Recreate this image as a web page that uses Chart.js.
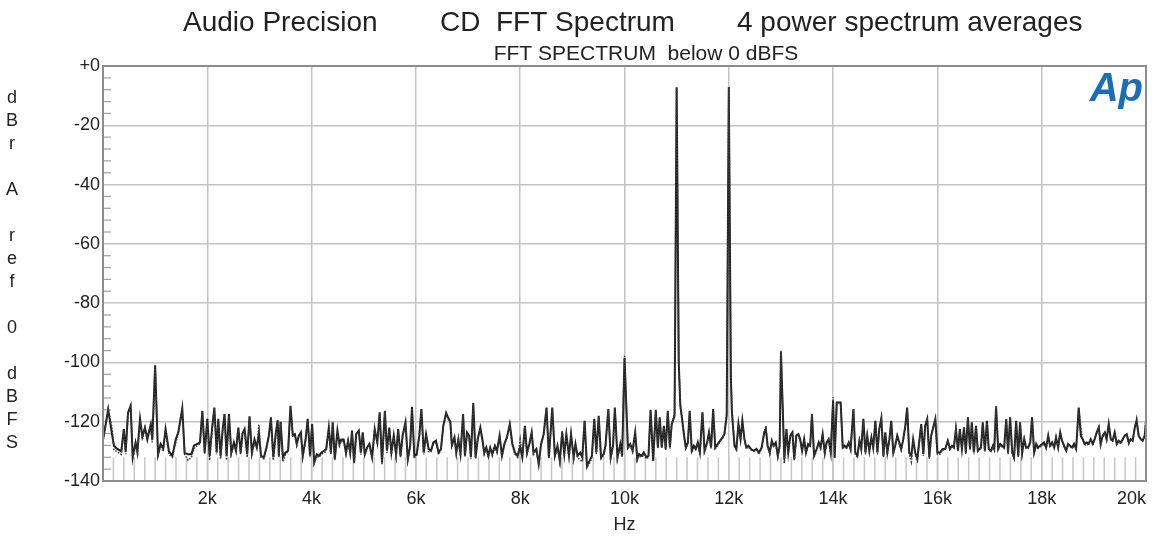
<!DOCTYPE html>
<html>
<head>
<meta charset="utf-8">
<title>FFT Spectrum</title>
<script src="https://cdn.jsdelivr.net/npm/chart.js@4.4.1/dist/chart.umd.min.js"></script>
<style>
  html, body { margin: 0; padding: 0; background: #fff; }
  #wrap { position: relative; width: 1153px; height: 536px; }
</style>
</head>
<body>
<div id="wrap"><canvas id="fftChart"></canvas></div>
<script>
// FFT bin frequencies (Hz)
const freqHz = [
  0,100,180,210,260,350,400,435,480,530,
  570,625,660,710,755,805,850,915,945,1000,
  1055,1105,1155,1200,1265,1330,1395,1445,1520,1565,
  1630,1695,1745,1810,1860,1905,1950,2000,2045,2090,
  2135,2180,2210,2255,2295,2330,2370,2415,2460,2510,
  2550,2595,2640,2675,2715,2765,2810,2855,2905,2950,
  2990,3030,3085,3135,3180,3220,3265,3315,3350,3372,
  3405,3450,3500,3550,3595,3640,3680,3715,3755,3795,
  3830,3885,3925,3970,4010,4050,4100,4140,4190,4240,
  4280,4330,4370,4405,4445,4495,4535,4570,4615,4660,
  4700,4740,4775,4815,4855,4905,4945,4980,5020,5065,
  5110,5160,5210,5260,5305,5350,5405,5445,5490,5530,
  5575,5620,5660,5705,5745,5800,5845,5890,5925,5970,
  6015,6065,6105,6150,6195,6245,6290,6335,6385,6435,
  6480,6525,6580,6615,6660,6690,6740,6775,6815,6855,
  6905,6940,6980,7020,7055,7100,7145,7185,7235,7275,
  7310,7350,7390,7425,7465,7515,7555,7605,7650,7695,
  7745,7800,7850,7900,7950,8000,8040,8090,8130,8175,
  8220,8255,8310,8355,8400,8450,8505,8550,8615,8665,
  8715,8760,8805,8845,8885,8935,8975,9025,9060,9100,
  9150,9190,9235,9280,9330,9375,9420,9460,9505,9550,
  9600,9635,9690,9735,9780,9815,9865,9920,9955,10000,
  10065,10110,10155,10205,10245,10280,10330,10370,10420,10460,
  10500,10550,10600,10640,10675,10715,10755,10790,10830,10870,
  10905,10960,11000,11040,11070,11100,11135,11175,11215,11250,
  11290,11330,11365,11405,11445,11495,11535,11585,11620,11660,
  11700,11740,11790,11835,11880,11915,11960,12000,12040,12060,
  12110,12145,12185,12225,12260,12300,12335,12375,12425,12480,
  12530,12580,12630,12680,12710,12745,12785,12825,12860,12900,
  12940,12975,13000,13065,13105,13140,13180,13220,13255,13295,
  13335,13370,13405,13445,13480,13520,13560,13595,13635,13685,
  13725,13760,13800,13840,13875,13915,13955,14000,14030,14070,
  14105,14145,14185,14220,14260,14300,14335,14390,14425,14465,
  14505,14540,14580,14620,14655,14695,14735,14770,14810,14850,
  14885,14925,14965,15000,15040,15080,15115,15155,15190,15230,
  15270,15305,15345,15385,15420,15460,15500,15535,15575,15615,
  15650,15690,15730,15765,15805,15845,15880,15920,15960,16000,
  16050,16100,16150,16200,16240,16280,16315,16355,16395,16430,
  16470,16510,16545,16585,16625,16660,16700,16740,16775,16835,
  16870,16910,16950,16985,17025,17065,17090,17125,17165,17205,
  17240,17280,17320,17355,17395,17435,17470,17510,17550,17585,
  17625,17665,17700,17740,17780,17815,17855,17895,17930,17970,
  18010,18045,18085,18125,18160,18200,18240,18275,18315,18355,
  18390,18430,18470,18505,18545,18585,18620,18660,18710,18750,
  18785,18825,18865,18900,18940,18980,19015,19055,19095,19130,
  19170,19210,19245,19285,19325,19360,19400,19440,19475,19515,
  19555,19590,19630,19670,19705,19745,19785,19820,19860,19900,
  19935,19975,20000
];

// solid trace, dBFS
const levelA = [
  -126,-116,-125,-128,-129,-130,-122.5,-130,-117,-114.6,
  -132,-127,-130,-119,-125,-122,-126,-121,-126,-101,
  -131,-127.5,-129,-122.5,-130,-131.5,-126,-123.5,-115.5,-130.5,
  -131,-131,-128,-127.5,-127,-116.3,-130.4,-119,-131.5,-122.5,
  -115.2,-130.4,-119,-131.5,-122.5,-117.4,-131.5,-117.4,-130.4,-127,
  -129.8,-122,-130.4,-124,-122.5,-131,-118.2,-130.4,-126,-128.7,
  -124,-131.5,-132,-128.7,-124.7,-118.5,-132,-123.6,-119.5,-131.5,
  -120,-132,-130.4,-129.8,-114.6,-124.7,-124.2,-127.5,-124.7,-123.6,
  -131.5,-126,-119,-131.5,-120.8,-133.7,-131,-131.5,-130.4,-129.8,
  -129.2,-122,-130.4,-120.2,-132.6,-123,-127.5,-126,-126,-130.4,
  -126.4,-130.4,-123,-133.7,-124.2,-123,-130.4,-123.6,-131,-128.7,
  -127.5,-132,-122.5,-127,-116.8,-133.7,-116.3,-129.8,-122,-130.4,
  -124.7,-131,-122.5,-131.5,-124.7,-120.2,-132.6,-128.1,-115,-131.5,
  -131,-124.7,-115.7,-130.4,-124.2,-129.2,-129.8,-127,-126.4,-130.4,
  -129.2,-121.4,-117,-118.5,-120,-128,-125.3,-130.4,-125.9,-130.9,
  -117.4,-131.5,-123.6,-124.7,-132,-113.7,-132,-125.9,-122,-125.9,
  -130.4,-128.7,-131.5,-128.7,-130.9,-128.1,-129.8,-124.7,-131.5,-127.5,
  -125.3,-120.8,-127.5,-130.4,-131.5,-128.7,-132,-121.4,-130.4,-127.5,
  -123.6,-130.4,-129.2,-134.3,-127.5,-124.2,-115.2,-132,-115.2,-131.5,
  -128.1,-133.2,-123.6,-130.9,-124.2,-131.5,-124.2,-132,-127.5,-131.5,
  -130.4,-132,-119.7,-134.9,-133.2,-131.5,-119,-130.4,-118,-132,
  -130.9,-128.1,-115.7,-132,-128.1,-115.2,-132,-127.5,-131.5,-98.5,
  -128.7,-127.5,-129.8,-123.6,-132.6,-130.9,-131.5,-130.4,-132,-131.5,
  -116,-133.2,-116,-128.7,-118.5,-128.7,-121.4,-129.2,-116.3,-128.7,
  -120.8,-118,-7.2,-100,-114.6,-118.5,-123.6,-128.7,-127,-116.3,
  -129.8,-128.1,-129.2,-127,-130.4,-116.8,-129.8,-127,-123.6,-128.7,
  -115.7,-128.7,-127.5,-126.4,-125.3,-124.2,-118,-7.2,-105,-116.8,
  -128.1,-129.2,-120.8,-125.9,-119.7,-125.9,-128.7,-128.1,-129.2,-129.8,
  -129.2,-130.4,-128.7,-123.6,-122.5,-128.1,-130.4,-126.4,-128.1,-127,
  -131.5,-128.1,-96.5,-132.6,-122.5,-130.4,-124.7,-123.6,-132.6,-124.7,
  -124.2,-126,-129.8,-125.9,-130.4,-127.5,-128.1,-117.4,-131.5,-129.2,
  -127,-128.7,-124.2,-130.4,-127,-125.9,-130.4,-113,-132,-113.5,
  -113.5,-113.5,-128.7,-128.1,-128.7,-127,-129.2,-115.7,-130.4,-131.5,
  -126.4,-129.2,-119,-130.4,-124.7,-129.8,-125.3,-128.7,-119.7,-130.4,
  -122.5,-118.8,-131.5,-123.6,-130.4,-125.9,-119.7,-130.4,-128.1,-124.7,
  -127,-129.2,-125.9,-121.4,-115.2,-130.4,-131.5,-125.9,-130.4,-132.6,
  -127,-120.8,-130.9,-121.4,-119.1,-132,-124.7,-121.9,-119.1,-130.4,
  -130.4,-129.2,-129.2,-126.4,-129.2,-128.1,-128.7,-122.5,-129.8,-122.5,
  -129.2,-121.9,-130.4,-118.5,-129.2,-120.2,-130.4,-121.4,-129.8,-128.7,
  -120.2,-129.8,-119.7,-129.2,-129.8,-128.1,-129.2,-114.8,-129.2,-127.5,
  -128.1,-128.7,-119.1,-130.4,-118.5,-130.4,-132,-119.7,-131.5,-120.2,
  -130.4,-125.9,-128.7,-128.7,-127,-118.5,-130.4,-127.5,-128.7,-128.1,
  -127.5,-127,-128.7,-124.7,-128.1,-127,-128.7,-125.3,-128.7,-123.6,
  -126.4,-128.1,-129.8,-127.5,-128.1,-128.7,-127.5,-129.2,-115.2,-124.7,
  -125.9,-127.5,-127,-127.5,-125.9,-127.5,-125.9,-123.6,-121.9,-127.5,
  -124.7,-123.6,-125.9,-120.8,-125.9,-126.4,-123.6,-127.5,-126.4,-127,
  -125.9,-124.7,-124.2,-127,-125.9,-126.4,-121.9,-119.7,-124.7,-125.9,
  -126.4,-124.7,-120
];

// dotted trace, dBFS
const levelB = [
  -127,-115.5,-123,-129.5,-130,-131,-123,-131,-117,-115,
  -132.5,-128,-131,-119.5,-126,-122,-125,-121,-127,-101.5,
  -131.5,-128,-130,-123,-131,-132,-127,-124,-116,-131,
  -133,-132,-129,-128,-127.5,-116.5,-131,-119.5,-133,-123,
  -115.5,-131,-119.5,-132.5,-123,-117.5,-133,-118,-131,-128,
  -130,-122.5,-131,-124,-123,-132,-118.5,-131,-127,-129,
  -121,-132,-132.5,-129,-125,-119,-133,-124,-120,-132,
  -120.5,-133.5,-131,-130,-115,-125,-125,-128,-125,-124,
  -132,-126,-119.5,-132,-121,-134,-131.5,-132,-131,-130.5,
  -130,-122.5,-131,-120.5,-133,-123.5,-128,-126.5,-126.5,-131,
  -127,-131,-123.5,-134,-124.5,-123.5,-131,-124,-131.5,-129,
  -128,-132.5,-123,-127.5,-117,-134.5,-116.5,-130.5,-122.5,-131,
  -125,-131.5,-123,-132,-125,-120.5,-133,-128.5,-115.5,-132,
  -131.5,-125,-116,-131,-124.5,-130,-130,-127.5,-127,-131,
  -129.5,-121.5,-117.5,-119,-120.5,-128.5,-125.5,-131,-126,-131.5,
  -117.5,-132,-124,-125,-132.5,-114,-132.5,-126,-122.5,-126.5,
  -131,-129,-132,-129,-131.5,-128.5,-130.5,-125,-132,-128,
  -125.5,-121,-128,-131,-132,-126,-132.5,-121.5,-131,-128,
  -124,-131,-129.5,-134.5,-128,-124.5,-115.5,-132.5,-115.5,-132,
  -128.5,-133.5,-123,-131.5,-124.5,-132,-124.5,-132.5,-128,-132,
  -133,-133.5,-120,-135.5,-134,-132,-119.5,-131,-118.5,-132.5,
  -131.5,-128.5,-116,-132.5,-128.5,-115.5,-132.5,-128,-132,-97.5,
  -129,-128,-130,-124,-133,-131.5,-132,-131,-132.5,-132,
  -116.5,-133.5,-116.5,-129,-119,-129,-121.5,-129.5,-116.5,-129,
  -121,-117,-7.2,-99,-114,-118,-124,-129,-127.5,-116.5,
  -130.5,-128.5,-129.5,-127.5,-131,-117,-130,-127.5,-124,-129,
  -116,-129,-128,-126.5,-125.5,-124,-117,-7.2,-104,-116.5,
  -128.5,-129.5,-121,-126,-120,-126,-129,-128.5,-129.5,-130,
  -129.5,-131,-129,-123.5,-121.5,-128.5,-131,-126.5,-128.5,-127.5,
  -132,-128.5,-96,-134,-123,-131,-125,-124,-133,-125,
  -124.5,-126.5,-130,-126,-131,-128,-128.5,-117.5,-132,-129.5,
  -127.5,-129,-124.5,-131,-127.5,-126,-131,-111.8,-132.5,-113.5,
  -113.5,-114,-129,-128.5,-129,-127.5,-129.5,-116,-131,-132,
  -126.5,-129.5,-119.5,-131,-125,-130,-125.5,-129,-120,-131,
  -123,-119,-132,-124,-131,-126,-120,-131,-128.5,-125,
  -127.5,-129.5,-126,-121.5,-115.5,-131,-133.5,-126,-131,-133,
  -127.5,-121,-131.5,-121.5,-119.5,-132.5,-125,-122,-119.5,-131,
  -131,-129.5,-129.5,-126.5,-129.5,-128.5,-129,-122.5,-130,-122.5,
  -129.5,-122,-131,-119,-129.5,-120.5,-131,-121.5,-130,-129,
  -120.5,-130,-120,-129.5,-130,-128.5,-129.5,-115,-129.5,-128,
  -128.5,-129,-119.5,-131,-119,-131,-132.5,-120,-132,-120.5,
  -131,-126,-129,-129,-127.5,-119,-131,-128,-129,-128.5,
  -128,-127.5,-129,-125,-128.5,-127.5,-129,-125.5,-129,-124,
  -126.5,-128.5,-130,-128,-128.5,-129,-128,-129.5,-115.5,-122,
  -126,-128,-127.5,-128,-126,-128,-126,-124,-122,-128,
  -125,-124,-126,-121,-126,-126.5,-124,-128,-126.5,-127.5,
  -126,-125,-124.5,-127.5,-126,-126.5,-122,-119,-125,-126,
  -126.5,-125,-118.5
];

const yTicks = [0, -20, -40, -60, -80, -100, -120, -140];
const xTickHz = [2000, 4000, 6000, 8000, 10000, 12000, 14000, 16000, 18000, 20000];
const yLetters = ['d','B','r','','A','','r','e','f','','0','','d','B','F','S'];

const FONT = '"Liberation Sans", Arial, sans-serif';
const TEXT = '#222';

// frame, minor ticks and the rest of the Audio Precision decorations
const apDecor = {
  id: 'apDecor',
  beforeDatasetsDraw(chart) {
    const { ctx, chartArea: a, scales: { x, y } } = chart;
    ctx.save();
    ctx.strokeStyle = '#a0a0a0';
    ctx.lineWidth = 1.2;
    // short minor ticks on the left, every 4 dB
    for (let v = 0; v > -140; v -= 4) {
      if (v % 20 === 0) continue;
      const py = y.getPixelForValue(v);
      ctx.beginPath();
      ctx.moveTo(a.left, py);
      ctx.lineTo(a.left + 8, py);
      ctx.stroke();
    }
    // long minor ticks along the bottom, every 200 Hz
    ctx.strokeStyle = '#c6c6c6';
    ctx.lineWidth = 1.5;
    const yTop = y.getPixelForValue(-132);
    for (let f = 200; f < 20000; f += 200) {
      const px = x.getPixelForValue(f);
      ctx.beginPath();
      ctx.moveTo(px, yTop);
      ctx.lineTo(px, a.bottom);
      ctx.stroke();
    }
    ctx.restore();
  },
  afterDraw(chart) {
    const { ctx, chartArea: a } = chart;
    ctx.save();
    ctx.strokeStyle = '#8c8c8c';
    ctx.lineWidth = 2;
    ctx.strokeRect(a.left, a.top, a.right - a.left, a.bottom - a.top);

    ctx.fillStyle = TEXT;
    ctx.textBaseline = 'alphabetic';
    ctx.textAlign = 'left';
    ctx.font = '28px ' + FONT;
    ctx.fillText('Audio Precision', 183, 31);
    ctx.fillText('CD  FFT Spectrum', 440, 31);
    ctx.fillText('4 power spectrum averages', 737, 31);

    ctx.textAlign = 'center';
    ctx.font = '21px ' + FONT;
    ctx.fillText('FFT SPECTRUM  below 0 dBFS', 646, 60);

    ctx.textBaseline = 'middle';
    ctx.font = '18px ' + FONT;
    yLetters.forEach((ch, i) => {
      if (ch) ctx.fillText(ch, 12, 98 + i * 23);
    });
    ctx.fillText('Hz', (a.left + a.right) / 2, 525);

    ctx.fillStyle = '#1c6db5';
    ctx.textAlign = 'right';
    ctx.textBaseline = 'alphabetic';
    ctx.font = 'italic bold 40px ' + FONT;
    ctx.fillText('Ap', 1143, 101);
    ctx.restore();
  }
};

const ctx = document.getElementById('fftChart').getContext('2d');
new Chart(ctx, {
  type: 'line',
  data: {
    datasets: [
      {
        label: 'Ch B',
        data: freqHz.map((f, i) => ({ x: f, y: levelB[i] })),
        borderColor: '#3a3a3a',
        borderWidth: 1.6,
        borderDash: [1.5, 1.5],
        pointRadius: 0,
        tension: 0
      },
      {
        label: 'Ch A',
        data: freqHz.map((f, i) => ({ x: f, y: levelA[i] })),
        borderColor: '#1e1e1e',
        borderWidth: 2,
        pointRadius: 0,
        tension: 0
      }
    ]
  },
  options: {
    responsive: true,
    maintainAspectRatio: false,
    animation: false,
    layout: { padding: { top: 66, right: 6, left: 0, bottom: 0 } },
    plugins: {
      legend: { display: false },
      tooltip: { enabled: false }
    },
    scales: {
      x: {
        type: 'linear',
        min: 0,
        max: 20000,
        afterFit: s => { s.height = 55; },
        afterBuildTicks: s => { s.ticks = [0].concat(xTickHz).map(v => ({ value: v })); },
        ticks: {
          autoSkip: false,
          maxRotation: 0,
          align: 'inner',
          padding: 7,
          color: TEXT,
          font: { family: FONT, size: 18 },
          callback: v => (v === 0 ? '' : v / 1000 + 'k')
        },
        grid: { color: '#c3c3c3', lineWidth: 1.5, drawTicks: false },
        border: { display: false }
      },
      y: {
        min: -140,
        max: 0,
        afterFit: s => { s.width = 103; },
        afterBuildTicks: s => { s.ticks = yTicks.map(v => ({ value: v })); },
        ticks: {
          padding: 3,
          color: TEXT,
          font: { family: FONT, size: 18 },
          callback: v => (v === 0 ? '+0' : String(v))
        },
        grid: { color: '#c3c3c3', lineWidth: 1.5, drawTicks: false },
        border: { display: false }
      }
    }
  },
  plugins: [apDecor]
});
</script>
</body>
</html>
